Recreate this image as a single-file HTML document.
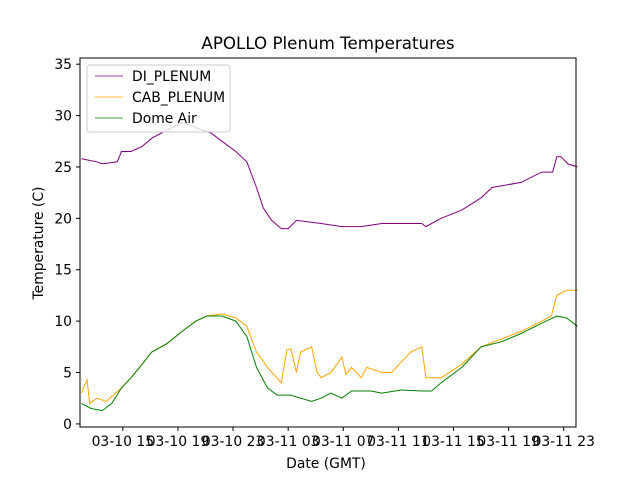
<!DOCTYPE html>
<html><head><meta charset="utf-8"><style>
body{margin:0;background:#fff}
svg{font-family:"DejaVu Sans","Liberation Sans",sans-serif}
</style></head><body>
<svg id="chart" width="640" height="480" viewBox="0 0 640 480">
<rect width="640" height="480" fill="#fff"/>
<text x="328" y="49" font-size="16.7" text-anchor="middle">APOLLO Plenum Temperatures</text>
<g id="series"></g>
<rect x="80" y="58" width="496" height="369" fill="none" stroke="#000" stroke-width="1"/>
<g id="axes" font-size="13.9"></g>
<text x="326" y="468" font-size="13.9" text-anchor="middle">Date (GMT)</text>
<text x="0" y="0" font-size="13.9" text-anchor="middle" transform="translate(43,243) rotate(-90)">Temperature (C)</text>
<g>
<rect x="87" y="65" width="143" height="67" rx="3" fill="#fff" fill-opacity="0.8" stroke="#ccc"/>
<line x1="95" y1="76" x2="123" y2="76" stroke="purple" stroke-width="0.8"/>
<text x="132" y="81" font-size="13.9">DI_PLENUM</text>
<line x1="95" y1="97" x2="123" y2="97" stroke="orange" stroke-width="0.8"/>
<text x="132" y="102" font-size="13.9">CAB_PLENUM</text>
<line x1="95" y1="118" x2="123" y2="118" stroke="green" stroke-width="0.8"/>
<text x="132" y="123" font-size="13.9">Dome Air</text>
</g>
</svg>
<script>
// hours since 03-10 12:00 GMT
const diHours=[0,1.1,1.5,2.6,2.9,3.6,4.4,5.1,5.8,6.5,7.3,8.0,8.7,9.4,10.2,11.2,12.0,12.7,13.2,13.8,14.5,15.0,15.6,17.4,18.9,20.3,21.8,23.2,24.7,25.0,26.1,27.6,29.0,29.8,31.9,33.4,34.2,34.5,34.8,35.3,36];
const diVals=[25.8,25.5,25.3,25.5,26.5,26.5,27,27.8,28.3,28.8,29.3,29.0,28.6,28.3,27.5,26.5,25.5,23,21,19.8,19,19,19.8,19.5,19.2,19.2,19.5,19.5,19.5,19.2,20,20.8,22,23,23.5,24.5,24.5,26,26,25.3,25];
const domeHours=[0,0.7,1.5,2.2,2.9,3.6,4.4,5.1,6.2,7.3,8.3,9.1,10.2,11.2,12.0,12.7,13.5,14.2,15.2,15.9,16.7,17.4,18.1,18.9,19.6,21.0,21.8,23.2,24.7,25.4,26.1,27.6,29.0,30.5,31.9,33.4,34.5,35.2,36];
const domeVals=[2,1.5,1.3,2,3.5,4.5,5.8,7,7.8,9,10,10.5,10.5,10,8.5,5.5,3.5,2.8,2.8,2.5,2.2,2.5,3,2.5,3.2,3.2,3,3.3,3.2,3.2,4,5.5,7.5,8,8.8,9.8,10.5,10.3,9.5];
const cabHours=[0,0.4,0.6,1.1,1.8,2.9,3.6,4.4,5.1,6.2,7.3,8.3,9.1,10.2,11.2,12.0,12.7,13.5,14.5,14.9,15.2,15.6,15.9,16.7,17.1,17.4,18.1,18.9,19.2,19.6,20.3,20.7,21.8,22.5,23.2,23.9,24.7,25.0,26.1,27.6,29.0,31.9,33.4,34.1,34.5,35.2,36];
const cabVals=[3,4.3,2,2.5,2.2,3.5,4.5,5.8,7,7.8,9,10,10.5,10.7,10.3,9.5,7,5.5,4,7.2,7.3,5,7,7.5,5,4.5,5,6.5,4.8,5.5,4.5,5.5,5,5,6,7,7.5,4.5,4.5,5.8,7.5,9,10,10.5,12.5,13,13];
const xTickHours=[3,7,11,15,19,23,27,31,35];
const xTickLabels=["03-10 15","03-10 19","03-10 23","03-11 03","03-11 07","03-11 11","03-11 15","03-11 19","03-11 23"];
const yTicks=[0,5,10,15,20,25,30,35];

const X=h=>81.5+h*(496/36);
const Y=v=>427-(v+0.3)*(369/35.9);
const NS="http://www.w3.org/2000/svg";
const sg=document.getElementById('series'), ag=document.getElementById('axes');
function line(hs,vs,color,name){
  const p=document.createElementNS(NS,'polyline');
  p.setAttribute('points',hs.map((h,i)=>X(h).toFixed(1)+','+Y(vs[i]).toFixed(1)).join(' '));
  p.setAttribute('fill','none');p.setAttribute('stroke',color);p.setAttribute('stroke-width','1');
  
  
  sg.appendChild(p);
}
line(diHours,diVals,'purple','series-di-plenum');
line(cabHours,cabVals,'orange','series-cab-plenum');
line(domeHours,domeVals,'green','series-dome-air');
xTickHours.forEach((h,i)=>{
  const x=X(h);
  const t=document.createElementNS(NS,'line');
  t.setAttribute('x1',x);t.setAttribute('x2',x);t.setAttribute('y1',427);t.setAttribute('y2',431);t.setAttribute('stroke','#000');
  
  
  ag.appendChild(t);
  const l=document.createElementNS(NS,'text');
  l.setAttribute('x',x);l.setAttribute('y',446);l.setAttribute('text-anchor','middle');l.textContent=xTickLabels[i];
  
  
  ag.appendChild(l);
});
yTicks.forEach(v=>{
  const y=Y(v);
  const t=document.createElementNS(NS,'line');
  t.setAttribute('x1',76);t.setAttribute('x2',80);t.setAttribute('y1',y);t.setAttribute('y2',y);t.setAttribute('stroke','#000');
  
  
  ag.appendChild(t);
  const l=document.createElementNS(NS,'text');
  l.setAttribute('x',72);l.setAttribute('y',y+5);l.setAttribute('text-anchor','end');l.textContent=v;
  
  
  ag.appendChild(l);
});
</script>
</body></html>
